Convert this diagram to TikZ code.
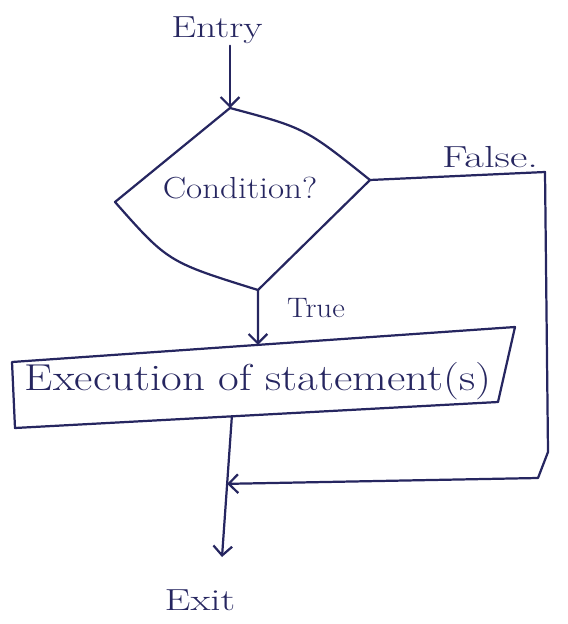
\documentclass[tikz,border=0pt]{standalone}
\usepackage{graphicx}
\usetikzlibrary{arrows.meta,calc}
\definecolor{ink}{RGB}{38,38,96}
\newcommand{\hw}[2]{\scalebox{#1}[1]{#2}}
\begin{document}
\begin{tikzpicture}[x=0.03cm,y=-0.03cm,
  color=ink,line width=1.9pt,line join=round,line cap=round,
  lbl/.style={text=ink,inner sep=1pt,font=\fontsize{26}{30}\selectfont},
  arr/.style={-{Straight Barb[length=8pt,width=16pt,line width=1.9pt]}}]
\useasboundingbox (0,0) rectangle (567,624);
% texts
\node[lbl] (entry) at (217,30) {\hw{1.3}{Entry}};
\node[lbl] (cond) at (240,188) {\hw{1.15}{Condition?}};
\node[lbl, font=\fontsize{24}{28}\selectfont] (true) at (316,308) {\hw{1.1}{True}};
\node[lbl] (false) at (490,157) {\hw{1.4}{False.}};
\node[lbl, font=\fontsize{32}{36}\selectfont] (exec) at (258,381) {\hw{1.2}{Execution of statement(s)}};
\node[lbl] (exit) at (200,600) {\hw{1.35}{Exit}};
% diamond
\coordinate (dt) at (230,108);
\coordinate (dl) at (115,202);
\coordinate (dr) at (370,180);
\coordinate (db) at (258,290);
\draw (dt) .. controls (305,128) .. (dr) -- (db) .. controls (168,262) .. (dl) -- cycle;
% rectangle
\coordinate (rtl) at (12,362);
\coordinate (rtr) at (515,327);
\coordinate (rbr) at (498,402);
\coordinate (rbl) at (15,428);
\draw (rtl) -- (rtr) -- (rbr) -- (rbl) -- cycle;
\coordinate (rin) at ($(rtl)!0.489!(rtr)$);
\coordinate (rout) at ($(rbl)!0.449!(rbr)$);
% connectors
\draw[arr] (dt |- entry.south) -- (dt);
\draw[arr] (db) -- (rin);
\coordinate (xe) at (222,557);
\draw[arr] (rout) -- (xe);
\coordinate (join) at ($(rout)!0.48!(xe)$);
\coordinate (fc1) at (545,172);
\coordinate (fc2) at (548,452);
\coordinate (fc3) at (538,478);
\draw[arr] (dr) -- (fc1) -- (fc2) -- (fc3) -- (join);
\end{tikzpicture}
\end{document}
